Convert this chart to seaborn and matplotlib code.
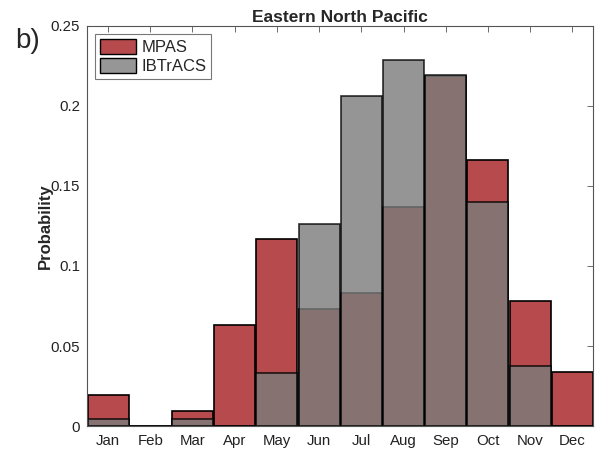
import matplotlib
matplotlib.use("Agg")
import matplotlib.pyplot as plt
import seaborn as sns
import pandas as pd
from matplotlib.patches import Patch

months = ["Jan", "Feb", "Mar", "Apr", "May", "Jun",
          "Jul", "Aug", "Sep", "Oct", "Nov", "Dec"]
mpas = [0.0195, 0.0, 0.0095, 0.063, 0.117, 0.073,
        0.083, 0.137, 0.219, 0.166, 0.078, 0.034]
ibtracs = [0.0045, 0.0, 0.0045, 0.0, 0.033, 0.126,
           0.206, 0.229, 0.2195, 0.140, 0.0375, 0.0]
yticks = [0, 0.05, 0.1, 0.15, 0.2, 0.25]
ytick_labels = ["0", "0.05", "0.1", "0.15", "0.2", "0.25"]

sns.set_style("white")
plt.rcParams["font.family"] = ["Liberation Sans", "DejaVu Sans"]

df = pd.DataFrame({"month": months, "MPAS": mpas, "IBTrACS": ibtracs})

red = (183 / 255, 74 / 255, 76 / 255)
gray = (124 / 255, 124 / 255, 124 / 255)
gray_alpha = 0.806

fig = plt.figure(figsize=(5.97, 4.51), dpi=100)
ax = fig.add_axes([0.1457, 0.0554, 0.8483, 0.887])

sns.barplot(data=df, x="month", y="MPAS", order=months, color=red,
            saturation=1, width=0.97, edgecolor="black", linewidth=1.2, ax=ax)
sns.barplot(data=df, x="month", y="IBTrACS", order=months, color=gray,
            saturation=1, width=0.97, edgecolor="black", linewidth=1.2,
            alpha=gray_alpha, ax=ax)

ax.set_xlim(-0.5, 11.5)
ax.set_ylim(0, 0.25)
ax.set_yticks(yticks)
ax.set_yticklabels(ytick_labels)
ax.set_xlabel("")
ax.set_ylabel("Probability", fontsize=12, fontweight="bold", labelpad=-2)
ax.set_title("Eastern North Pacific", fontsize=12.5, fontweight="bold", pad=3)

axis_color = "#555555"
for sp in ax.spines.values():
    sp.set_visible(True)
    sp.set_color(axis_color)
    sp.set_linewidth(0.8)
ax.tick_params(axis="both", direction="in", length=4, width=0.6,
               color=axis_color, labelsize=10.8, labelcolor="#222222",
               top=True, right=True, pad=5)
ax.tick_params(axis="x", pad=6)

handles = [Patch(facecolor=red, edgecolor="black", linewidth=1.0, label="MPAS"),
           Patch(facecolor=(150 / 255,) * 3, edgecolor="black", linewidth=1.0,
                 label="IBTrACS")]
leg = ax.legend(handles=handles, loc="upper left", fontsize=12, frameon=True,
                fancybox=False, edgecolor=axis_color, handlelength=2.15,
                handleheight=1.0, handletextpad=0.3, borderpad=0.3,
                labelspacing=0.15, borderaxespad=0.5,
                bbox_to_anchor=(0.0, 1.0))
leg.get_frame().set_linewidth(0.8)

fig.text(0.025, 0.91, "b)", fontsize=20, ha="left", va="center")

fig.savefig("out.png", dpi=100)
